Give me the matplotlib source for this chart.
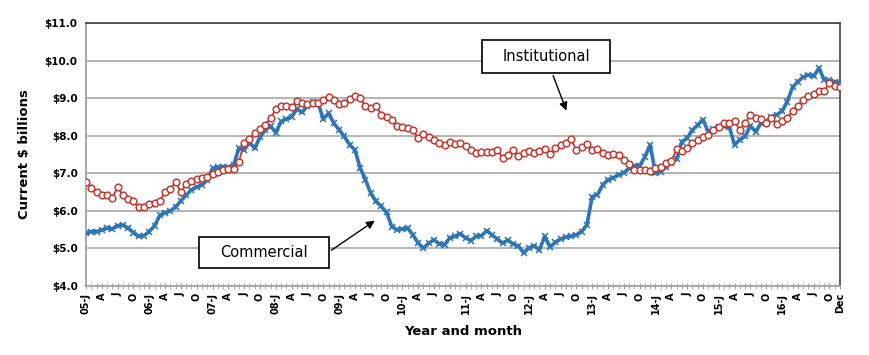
import numpy as np
import matplotlib
matplotlib.use('Agg')
import matplotlib.pyplot as plt
from matplotlib.patches import Rectangle

# monthly values, Jan 2005 .. Dec 2016, current $ billions
institutional = [
    6.78, 6.60, 6.49, 6.41, 6.42, 6.35, 6.63, 6.42, 6.32, 6.27, 6.11, 6.09,  # 2005
    6.17, 6.20, 6.27, 6.49, 6.58, 6.77, 6.49, 6.71, 6.80, 6.85, 6.88, 6.91,  # 2006
    6.97, 7.04, 7.09, 7.11, 7.12, 7.31, 7.80, 7.91, 8.06, 8.17, 8.29, 8.48,  # 2007
    8.70, 8.79, 8.79, 8.77, 8.92, 8.87, 8.85, 8.87, 8.88, 8.94, 9.04, 8.96,  # 2008
    8.85, 8.88, 8.98, 9.07, 9.00, 8.78, 8.73, 8.80, 8.56, 8.49, 8.41, 8.25,  # 2009
    8.22, 8.20, 8.15, 7.93, 8.04, 7.96, 7.88, 7.81, 7.75, 7.84, 7.78, 7.80,  # 2010
    7.72, 7.62, 7.53, 7.57, 7.56, 7.57, 7.62, 7.42, 7.49, 7.62, 7.46, 7.55,  # 2011
    7.60, 7.55, 7.60, 7.64, 7.51, 7.66, 7.75, 7.81, 7.90, 7.62, 7.71, 7.78,  # 2012
    7.62, 7.64, 7.53, 7.49, 7.52, 7.49, 7.35, 7.26, 7.09, 7.09, 7.10, 7.07,  # 2013
    7.13, 7.16, 7.28, 7.33, 7.64, 7.60, 7.66, 7.80, 7.88, 7.97, 8.02, 8.15,  # 2014
    8.24, 8.33, 8.35, 8.38, 8.16, 8.33, 8.56, 8.47, 8.44, 8.35, 8.47, 8.32,  # 2015
    8.38, 8.47, 8.67, 8.80, 8.96, 9.06, 9.12, 9.18, 9.20, 9.40, 9.31, 9.29,  # 2016
]
commercial = [
    5.40, 5.45, 5.45, 5.49, 5.54, 5.52, 5.61, 5.62, 5.54, 5.42, 5.32, 5.34,  # 2005
    5.45, 5.60, 5.88, 5.95, 6.00, 6.10, 6.27, 6.42, 6.56, 6.63, 6.69, 6.82,  # 2006
    7.13, 7.16, 7.18, 7.16, 7.22, 7.67, 7.62, 7.82, 7.67, 7.96, 8.15, 8.26,  # 2007
    8.08, 8.38, 8.44, 8.51, 8.71, 8.62, 8.80, 8.91, 8.88, 8.44, 8.60, 8.33,  # 2008
    8.16, 7.98, 7.76, 7.62, 7.14, 6.83, 6.47, 6.25, 6.12, 5.96, 5.58, 5.50,  # 2009
    5.52, 5.54, 5.36, 5.14, 5.01, 5.14, 5.23, 5.12, 5.10, 5.28, 5.32, 5.39,  # 2010
    5.28, 5.21, 5.32, 5.34, 5.47, 5.36, 5.25, 5.14, 5.22, 5.12, 5.07, 4.88,  # 2011
    5.01, 5.07, 4.96, 5.32, 5.04, 5.16, 5.25, 5.30, 5.32, 5.36, 5.45, 5.63,  # 2012
    6.38, 6.43, 6.69, 6.83, 6.88, 6.96, 7.02, 7.13, 7.20, 7.20, 7.44, 7.75,  # 2013
    7.00, 7.04, 7.16, 7.28, 7.37, 7.84, 7.93, 8.15, 8.28, 8.43, 8.11, 8.17,  # 2014
    8.24, 8.25, 8.23, 7.76, 7.89, 7.98, 8.26, 8.11, 8.33, 8.38, 8.49, 8.56,  # 2015
    8.65, 8.91, 9.29, 9.44, 9.56, 9.62, 9.58, 9.80, 9.49, 9.47, 9.44, 9.40,  # 2016
]
years = ['05', '06', '07', '08', '09', '10', '11', '12', '13', '14', '15', '16']
quarter_letters = ['J', 'A', 'J', 'O']
y_ticks = [4, 5, 6, 7, 8, 9, 10, 11]

months = np.arange(len(commercial))

# tick labels every 3 months, last month shown as "Dec"
tick_pos = list(range(0, len(months), 3)) + [len(months) - 1]
tick_lab = []
for yr in years:
    for k, q in enumerate(quarter_letters):
        tick_lab.append(yr + '-J' if k == 0 else q)
tick_lab.append('Dec')

plt.rcParams['font.family'] = ['DejaVu Sans']

fig = plt.figure(figsize=(8.7, 3.55), dpi=100)
ax = fig.add_axes([86 / 870, 1 - 286 / 355, 754 / 870, 263 / 355])

blue = '#2E75B6'
red = '#C23B31'

ax.plot(months, commercial, color=blue, lw=2.6, marker='x', ms=4.5, mew=1.1, zorder=3)
ax.plot(months, institutional, color=red, lw=1.3, marker='o', ms=4.8, mfc='white',
        mec=red, mew=1.1, zorder=4)

ax.set_xlim(0, len(months) - 1)
ax.set_ylim(4, 11)
ax.set_yticks(y_ticks)
ax.set_yticklabels(['$%.1f' % v for v in y_ticks], fontsize=7.5, fontweight='bold')
ax.yaxis.grid(True, color='#B4B4B4', lw=1.4)
ax.set_axisbelow(True)
ax.tick_params(axis='y', length=0, pad=6)

ax.set_xticks(tick_pos)
ax.set_xticklabels(tick_lab, rotation=90, fontsize=7, fontweight='bold')
ax.set_xticks(months, minor=True)
ax.tick_params(axis='x', which='both', direction='inout', length=4, color='#A0A0A0', pad=3)

for s in ['top', 'right']:
    ax.spines[s].set_color('#404040')
    ax.spines[s].set_linewidth(1.2)
for s in ['left', 'bottom']:
    ax.spines[s].set_color('#A8A8A8')
    ax.spines[s].set_linewidth(1.4)

ax.set_ylabel('Current $ billions', fontsize=9.5, fontweight='bold', labelpad=10)
ax.set_xlabel('Year and month', fontsize=9.5, fontweight='bold', labelpad=8)

# call-out boxes with arrows
ax.add_patch(Rectangle((21.4, 4.48), 24.7, 0.82, facecolor='white', edgecolor='black',
                       lw=1.2, zorder=5))
ax.text(33.8, 4.89, 'Commercial', ha='center', va='center', fontsize=10.5, zorder=6)
ax.annotate('', xy=(55.2, 5.78), xytext=(46.1, 4.91),
            arrowprops=dict(arrowstyle='-|>', color='black', lw=1, mutation_scale=12), zorder=6)

ax.add_patch(Rectangle((75.1, 9.67), 24.3, 0.88, facecolor='white', edgecolor='black',
                       lw=1.2, zorder=5))
ax.text(87.3, 10.11, 'Institutional', ha='center', va='center', fontsize=10.5, zorder=6)
ax.annotate('', xy=(91.3, 8.60), xytext=(88.4, 9.67),
            arrowprops=dict(arrowstyle='-|>', color='black', lw=1, mutation_scale=12), zorder=6)

plt.savefig('out.png', dpi=100)
